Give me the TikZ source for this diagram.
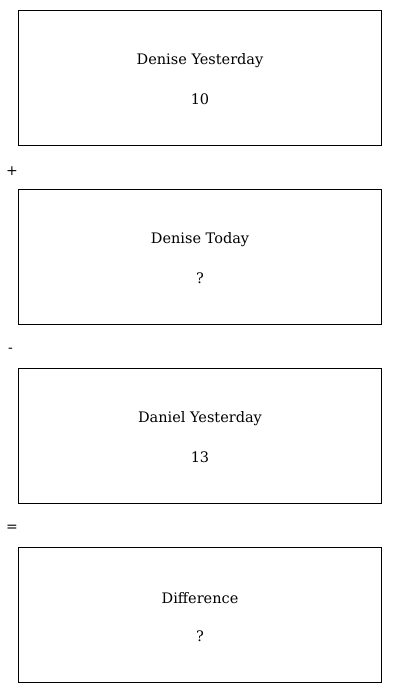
\documentclass[tikz,border=0pt]{standalone}
\usepackage{fontspec}
\setmainfont{DejaVu Serif}
\begin{document}
\begin{tikzpicture}[x=1pt,y=-1pt,
  panel/.style={draw=black,line width=0.9pt,minimum width=363pt,minimum height=135pt,inner sep=0pt,anchor=north west},
  lbl/.style={font=\fontsize{14.5}{17}\selectfont},
  op/.style={font=\fontsize{14}{16}\selectfont,inner sep=0pt}]
\useasboundingbox (0,0) rectangle (400,693);
\node[panel] (b1) at (18,10) {};
\node[panel] (b2) at (18,189) {};
\node[panel] (b3) at (18,368) {};
\node[panel] (b4) at (18,547) {};
\node[lbl] (t1) at (200,61) {Denise Yesterday};
\node[lbl] (v1) at (200,99.5) {10};
\node[lbl] (t2) at (200,240) {Denise Today};
\node[lbl] (v2) at (200,278.5) {?};
\node[lbl] (t3) at (200,419) {Daniel Yesterday};
\node[lbl] (v3) at (200,457.5) {13};
\node[lbl] (t4) at (200,598) {Difference};
\node[lbl] (v4) at (200,636.5) {?};
\node[op] (o1) at (12,171) {+};
\node[op] (o2) at (10.5,350) {-};
\node[op] (o3) at (12,528) {=};
\end{tikzpicture}
\end{document}
